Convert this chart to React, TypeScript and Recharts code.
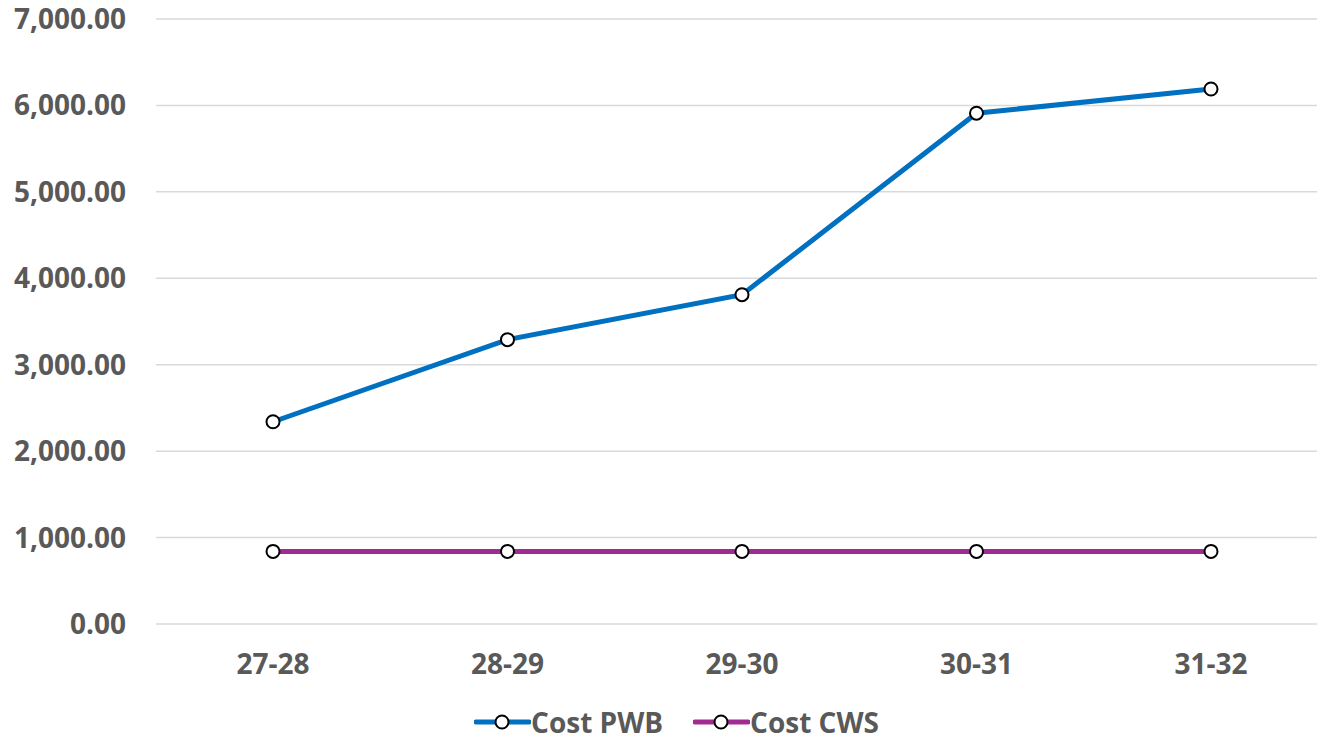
import { LineChart, Line, XAxis, YAxis, CartesianGrid, Legend } from 'recharts'

const periods = ['27-28', '28-29', '29-30', '30-31', '31-32']
const costPWB = [2340, 3290, 3810, 5910, 6190]
const costCWS = [840, 840, 840, 840, 840]
const yTicks = [0, 1000, 2000, 3000, 4000, 5000, 6000, 7000]

const SERIES = [
  { key: 'pwb', name: 'Cost PWB', color: '#0070C0' },
  { key: 'cws', name: 'Cost CWS', color: '#A02B93' },
]

const data = periods.map((p, i) => ({ period: p, pwb: costPWB[i], cws: costCWS[i] }))

const FONT = '"Open Sans", sans-serif'
const TEXT = '#595959'

const fmt = (v: number) =>
  v.toLocaleString('en-US', { minimumFractionDigits: 2, maximumFractionDigits: 2 })

function LegendContent() {
  return (
    <div style={{ display: 'flex', justifyContent: 'center', alignItems: 'center', gap: 30, height: 38 }}>
      {SERIES.map((s) => (
        <div key={s.key} style={{ display: 'flex', alignItems: 'center' }}>
          <svg width={57} height={20}>
            <line x1={2} y1={10} x2={55} y2={10} stroke={s.color} strokeWidth={5} strokeLinecap="round" />
            <circle cx={28} cy={10} r={6.5} fill="#fff" stroke="#000" strokeWidth={2} />
          </svg>
          <span style={{ fontFamily: FONT, fontWeight: 700, fontSize: 28, color: TEXT, lineHeight: 'normal' }}>
            {s.name}
          </span>
        </div>
      ))}
    </div>
  )
}

export default function App() {
  return (
    <div style={{ position: 'absolute', left: 0, top: 0, width: 1317, height: 742, overflow: 'hidden', background: '#fff' }}>
      <LineChart width={1330} height={742} data={data} margin={{ top: 19, right: 2, bottom: 50, left: 0 }}>
        <CartesianGrid horizontal vertical={false} stroke="#D9D9D9" strokeWidth={1.5} />
        <XAxis
          dataKey="period"
          axisLine={false}
          tickLine={false}
          tickSize={0}
          tickMargin={30}
          padding={{ left: 117, right: 117 }}
          tick={{ fill: TEXT, fontFamily: FONT, fontWeight: 700, fontSize: 28 }}
        />
        <YAxis
          width={156}
          domain={[0, 7000]}
          ticks={yTicks}
          tickFormatter={fmt}
          axisLine={false}
          tickLine={false}
          tickSize={0}
          tickMargin={30}
          interval={0}
          tick={{ fill: TEXT, fontFamily: FONT, fontWeight: 700, fontSize: 28 }}
        />
        <Legend
          content={<LegendContent />}
          wrapperStyle={{ left: 18, width: 1317, top: 703, height: 38 }}
        />
        {SERIES.map((s) => (
          <Line
            key={s.key}
            dataKey={s.key}
            name={s.name}
            type="linear"
            stroke={s.color}
            strokeWidth={5}
            dot={{ r: 6.5, fill: '#fff', stroke: '#000', strokeWidth: 2 }}
            activeDot={false}
            isAnimationActive={false}
          />
        ))}
      </LineChart>
    </div>
  )
}
